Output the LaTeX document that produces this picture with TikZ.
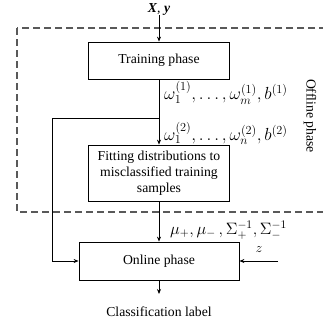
\RequirePackage{fix-cm}
\documentclass[tikz,border=0pt]{standalone}
\usepackage{fontspec}
\setmainfont{Liberation Serif}
\usetikzlibrary{arrows.meta}
\begin{document}
\begin{tikzpicture}[x=1pt,y=-1pt,
  box/.style={draw,line width=0.8pt,minimum width=141pt,minimum height=37pt,align=center,inner sep=0pt,font=\fontsize{13.7}{16}\selectfont},
  txt/.style={inner sep=0pt,font=\fontsize{13.7}{16}\selectfont},
  mth/.style={inner sep=0pt,anchor=west,font=\fontsize{17.5}{20}\selectfont},
  arr/.style={line width=0.8pt,-{Stealth[length=5pt,width=4pt]}},
  dashbox/.style={draw=black!65,line width=1.2pt,dash pattern=on 7pt off 4pt}]
\useasboundingbox (0,0) rectangle (323,324);
\draw[dashbox] (17,28) rectangle (345,212);
\node[txt] (xy) at (159,9) {\textbf{\textit{X}}, \textbf{\textit{y}}};
\node[box] (train) at (159,60.5) {Training phase};
\node[box,minimum height=56pt] (fit) at (159,173) {Fitting distributions to\\misclassified training\\samples};
\node[box,minimum width=160pt,minimum height=38pt] (online) at (159,261) {Online phase};
\node[txt] (cls) at (159,312) {Classification label};
\node[txt] (z) at (259,250) {$z$};
\node[txt,rotate=-90] (off) at (310,116) {Offline phase};
\coordinate (zs) at (278,261);
\coordinate (br) at (159,118);
\coordinate (bl) at (52,118);
\coordinate (bd) at (52,261);
\coordinate (out) at (159,294);
\node[mth] (l1) at (164,93) {$\omega_1^{(1)},\ldots,\omega_m^{(1)},b^{(1)}$};
\node[mth] (l2) at (164,133.5) {$\omega_1^{(2)},\ldots,\omega_n^{(2)},b^{(2)}$};
\node[mth,font=\fontsize{16.5}{19}\selectfont] (l3) at (170,230) {$\mu_+,\mu_-\,,\Sigma_+^{-1},\Sigma_-^{-1}$};
\draw[arr] (xy.south) -- (train.north);
\draw[arr] (train.south) -- (fit.north);
\draw[arr] (fit.south) -- (online.north);
\draw[arr] (br) -- (bl) -- (bd) -- (online.west);
\draw[arr] (zs) -- (online.east);
\draw[arr] (online.south) -- (out);
\end{tikzpicture}
\end{document}
